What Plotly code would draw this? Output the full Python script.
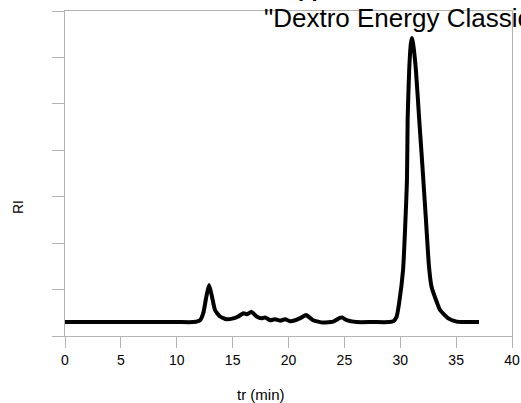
import plotly.graph_objects as go

# retention time (min) and RI signal (arbitrary units)
t_min = [0.0, 5.0, 10.0, 11.5, 12.08, 12.38, 12.65, 12.89, 13.15, 13.42, 13.87, 14.47,
         15.06, 15.5, 15.96, 16.26, 16.7, 17.15, 17.6, 17.9, 18.35, 18.8, 19.24, 19.7,
         20.13, 20.6, 21.1, 21.57, 22.2, 23.1, 24.0, 24.6, 24.8, 25.2, 26.1, 27.5, 29.0,
         29.4, 29.68, 29.9, 30.25, 30.6, 30.66, 30.8, 30.95, 31.05, 31.15, 31.4, 31.7,
         32.0, 32.3, 32.57, 32.8, 33.3, 33.56, 34.3, 35.05, 36.0, 37.05]
ri = [0.30, 0.30, 0.30, 0.30, 0.34, 0.50, 0.85, 1.10, 0.85, 0.56, 0.42, 0.36,
      0.38, 0.42, 0.49, 0.47, 0.52, 0.42, 0.38, 0.40, 0.34, 0.36, 0.33, 0.36,
      0.32, 0.34, 0.39, 0.45, 0.34, 0.29, 0.31, 0.39, 0.40, 0.34, 0.30, 0.30, 0.30,
      0.32, 0.42, 0.71, 1.42, 3.36, 4.65, 5.73, 6.30, 6.42, 6.30, 5.73, 4.65,
      3.60, 2.50, 1.50, 1.06, 0.71, 0.56, 0.38, 0.31, 0.30, 0.30]

x_ticks = [0, 5, 10, 15, 20, 25, 30, 35, 40]
title_line1 = "Supplement"
title_line2 = "\"Dextro Energy Classic\""
x_title = "tr (min)"
y_title = "RI"

fig = go.Figure()
fig.add_trace(go.Scatter(x=t_min, y=ri, mode="lines",
                         line=dict(color="black", width=4, shape="spline", smoothing=0.5),
                         hoverinfo="skip", showlegend=False))

axis_col = "#b3b3b3"
fig.update_layout(
    width=521, height=403,
    margin=dict(l=65, r=9, t=11, b=67),
    paper_bgcolor="white", plot_bgcolor="white",
    font=dict(family="Liberation Sans, Arial, sans-serif", color="black"),
    xaxis=dict(range=[0, 40], tickvals=x_ticks, ticktext=[str(v) for v in x_ticks],
               ticks="outside", ticklen=11, tickcolor=axis_col, tickwidth=1,
               showline=True, linecolor=axis_col, linewidth=1, mirror=True,
               showgrid=False, zeroline=False, tickfont=dict(size=14), automargin=False),
    yaxis=dict(range=[0, 7], dtick=1, tick0=0,
               ticks="outside", ticklen=12, tickcolor=axis_col, tickwidth=1,
               showline=True, linecolor=axis_col, linewidth=1, mirror=True,
               showgrid=False, zeroline=False, showticklabels=False, automargin=False),
    annotations=[
        dict(text=x_title, xref="paper", yref="paper", x=(261 - 65) / 447, y=-(395 - 336) / 325,
             xanchor="center", yanchor="middle", showarrow=False, font=dict(size=15)),
        dict(text=y_title, xref="paper", yref="paper", x=-(65 - 18) / 447, y=(336 - 207) / 325,
             xanchor="center", yanchor="middle", textangle=-90, showarrow=False, font=dict(size=14)),
        dict(text=title_line2, xref="paper", yref="paper", x=(262 - 65) / 447, y=(336 - 18) / 325,
             xanchor="left", yanchor="middle", showarrow=False, font=dict(size=26)),
        dict(text="<b>" + title_line1 + "</b>", xref="paper", yref="paper", x=(268 - 65) / 447,
             y=(336 + 12) / 325, xanchor="left", yanchor="middle", showarrow=False, font=dict(size=22)),
    ],
)

fig.write_html("out.html", config={"displayModeBar": False},
               post_script="document.body.style.margin='0';")
